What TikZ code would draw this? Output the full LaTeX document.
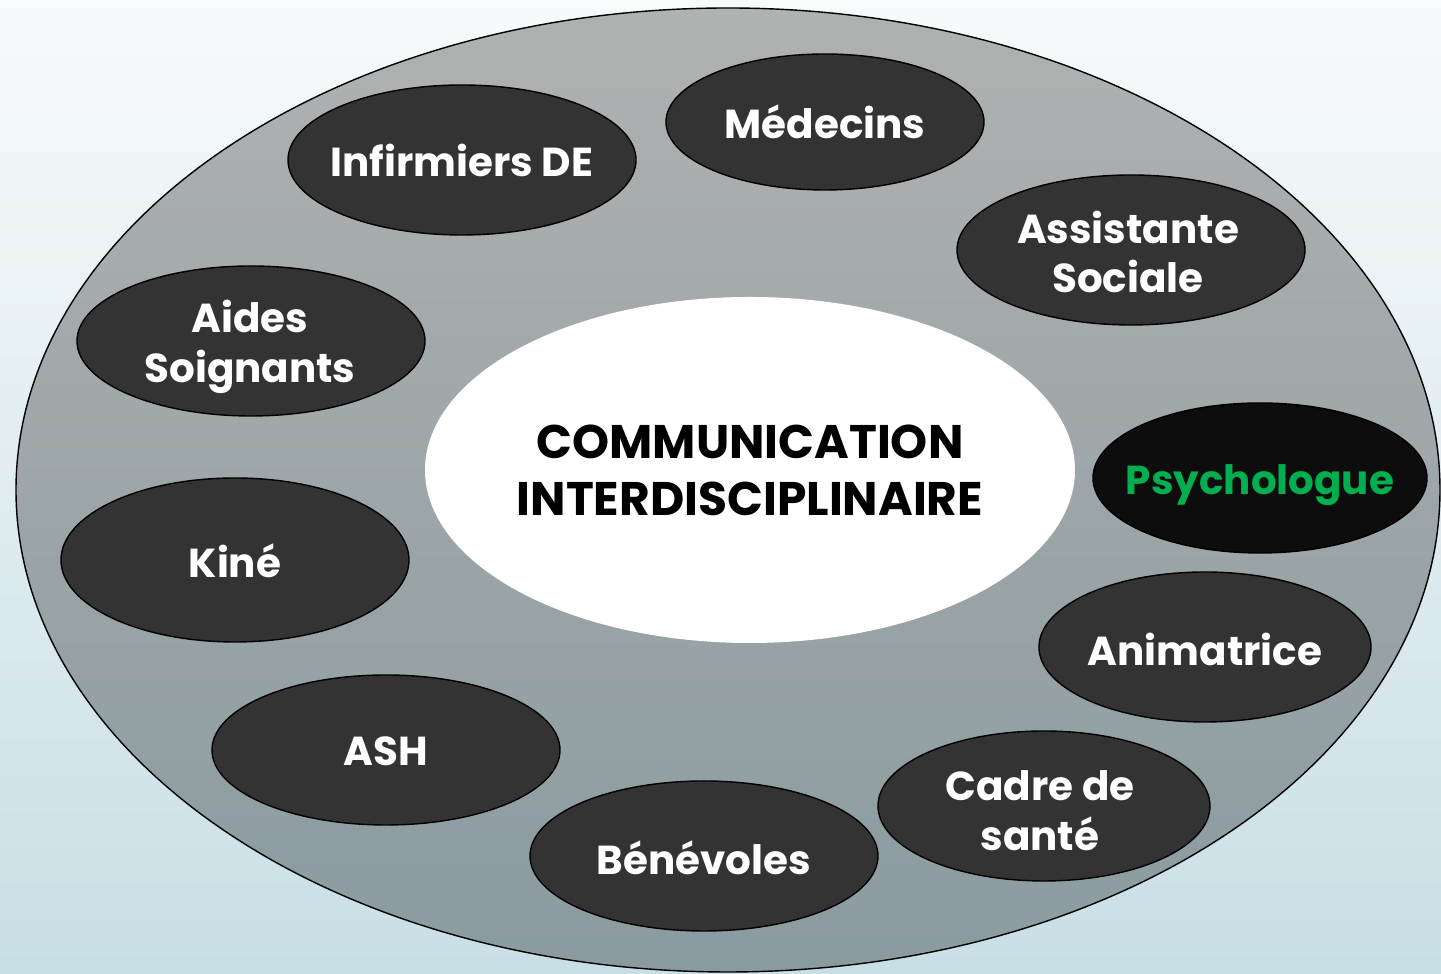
\documentclass[tikz,border=0pt]{standalone}
\usepackage{fontspec}
\setmainfont{Poppins}
\usetikzlibrary{shapes.geometric}
\definecolor{bgtop}{HTML}{F8FAFB}
\definecolor{bgbottom}{HTML}{C8DFE5}
\definecolor{ringtop}{HTML}{B0B1B1}
\definecolor{ringbottom}{HTML}{8A9BA0}
\definecolor{metierfill}{HTML}{333333}
\definecolor{psyfill}{HTML}{0D0D0D}
\definecolor{psygreen}{HTML}{00B050}
\begin{document}
\begin{tikzpicture}[x=0.01cm, y=-0.01cm,
    bulle/.style={draw=black, fill=metierfill},
    metier/.style={text=white, align=center, inner sep=0pt,
        font=\bfseries\fontsize{11.5}{14.2}\selectfont},
    centre/.style={align=center, inner sep=0pt,
        font=\bfseries\fontsize{13.4}{16.2}\selectfont}]
    \useasboundingbox (0,0) rectangle (1441,974);
    \shade[top color=bgtop, bottom color=bgbottom] (0,0) rectangle (1441,974);
    \shadedraw[top color=ringtop, bottom color=ringbottom, draw=black] (728,490) ellipse [x radius=712, y radius=482];
    % ellipses
    \fill[white] (750,470) ellipse [x radius=325, y radius=173];
    \draw[bulle] (462,160) ellipse [x radius=174, y radius=75];
    \draw[bulle] (825,122) ellipse [x radius=159, y radius=68];
    \draw[bulle] (1131,250) ellipse [x radius=174, y radius=75];
    \draw[bulle] (251,341) ellipse [x radius=174, y radius=75];
    \draw[bulle, fill=psyfill] (1260,478) ellipse [x radius=167, y radius=75];
    \draw[bulle] (235,560) ellipse [x radius=174, y radius=82];
    \draw[bulle] (1205,647) ellipse [x radius=166, y radius=75];
    \draw[bulle] (386,750) ellipse [x radius=174, y radius=75];
    \draw[bulle] (1044,806) ellipse [x radius=166, y radius=75];
    \draw[bulle] (704,856) ellipse [x radius=174, y radius=75];
    % textes
    \node[centre] (comm) at (750,470) {COMMUNICATION\\INTERDISCIPLINAIRE};
    \node[metier] (infirmiers) at (462,160) {Infirmiers DE};
    \node[metier] (medecins) at (825,122) {Médecins};
    \node[metier] (assistante) at (1128,252) {Assistante\\Sociale};
    \node[metier] (aides) at (250,347) {Aides\\Soignants};
    \node[metier, text=psygreen] (psycho) at (1260,485) {Psychologue};
    \node[metier] (kine) at (235,561) {Kiné};
    \node[metier] (animatrice) at (1205,649) {Animatrice};
    \node[metier] (ash) at (386,751) {ASH};
    \node[metier] (cadre) at (1040,811) {Cadre de\\santé};
    \node[metier] (benevoles) at (704,858) {Bénévoles};
\end{tikzpicture}
\end{document}
